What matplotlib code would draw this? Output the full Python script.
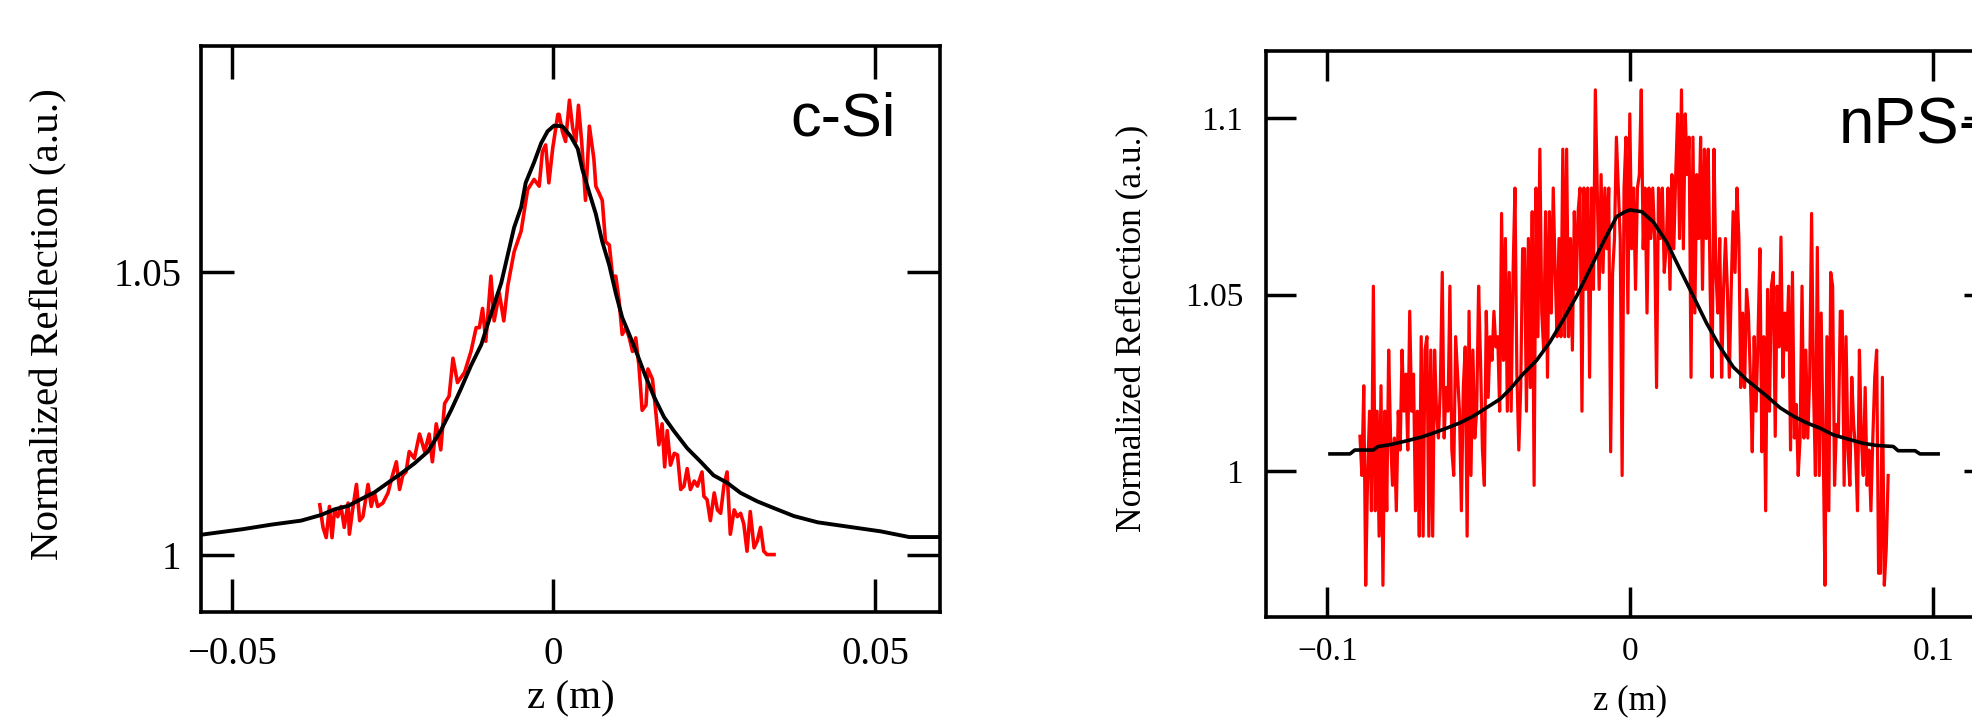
import numpy as np
import matplotlib
matplotlib.use('Agg')
import matplotlib.pyplot as plt

plt.rcParams['font.family'] = ['Liberation Serif', 'DejaVu Serif']

# c-Si : fit (black) and measured (red)
csi_fit_z = [-0.0548, -0.0482, -0.0438, -0.0392, -0.0361, -0.0340, -0.0319, -0.0299, -0.0278, -0.0257,
             -0.0237, -0.0216, -0.0195, -0.0175, -0.0159, -0.0144, -0.0128, -0.0112, -0.0097, -0.0081,
             -0.0071, -0.0061, -0.0050, -0.0043, -0.0030, -0.0019, -0.0009, 0.0001, 0.0014, 0.0027,
             0.0038, 0.0045, 0.0056, 0.0066, 0.0076, 0.0087, 0.0097, 0.0107, 0.0118, 0.0131,
             0.0143, 0.0156, 0.0172, 0.0187, 0.0208, 0.0229, 0.0249, 0.0270, 0.0291, 0.0317,
             0.0343, 0.0374, 0.0411, 0.0509, 0.0553, 0.0601]
csi_fit_r = [1.0035, 1.0045, 1.0053, 1.0060, 1.0070, 1.0080, 1.0086, 1.0098, 1.0110, 1.0127,
             1.0143, 1.0161, 1.0182, 1.0219, 1.0255, 1.0292, 1.0334, 1.0371, 1.0425, 1.0480,
             1.0529, 1.0578, 1.0614, 1.0657, 1.0693, 1.0727, 1.0748, 1.0758, 1.0757, 1.0739,
             1.0717, 1.0681, 1.0639, 1.0602, 1.0553, 1.0511, 1.0462, 1.0419, 1.0389, 1.0352,
             1.0316, 1.0280, 1.0243, 1.0219, 1.0188, 1.0164, 1.0140, 1.0127, 1.0109, 1.0094,
             1.0082, 1.0068, 1.0057, 1.0041, 1.0031, 1.0031]

csi_meas_z = [-0.0363, -0.0358, -0.0353, -0.0348, -0.0344, -0.0340, -0.0335, -0.0330, -0.0325, -0.0319,
              -0.0317, -0.0312, -0.0306, -0.0301, -0.0296, -0.0288, -0.0283, -0.0278, -0.0273, -0.0265,
              -0.0257, -0.0250, -0.0244, -0.0239, -0.0234, -0.0229, -0.0224, -0.0216, -0.0208, -0.0200,
              -0.0193, -0.0188, -0.0182, -0.0175, -0.0169, -0.0162, -0.0156, -0.0149, -0.0138, -0.0128,
              -0.0120, -0.0115, -0.0110, -0.0105, -0.0097, -0.0092, -0.0084, -0.0077, -0.0071, -0.0061,
              -0.0050, -0.0040, -0.0030, -0.0022, -0.0017, -0.0012, -0.0007, -0.0001, 0.0007,
              0.0009, 0.0014, 0.0019, 0.0025, 0.0030, 0.0035, 0.0039, 0.0044, 0.0050, 0.0056,
              0.0063, 0.0066, 0.0071, 0.0076, 0.0081, 0.0087, 0.0092, 0.0097, 0.0102, 0.0107,
              0.0113, 0.0118, 0.0123, 0.0128, 0.0133, 0.0138, 0.0144, 0.0147, 0.0154, 0.0159,
              0.0164, 0.0169, 0.0173, 0.0177, 0.0182, 0.0188, 0.0193, 0.0198, 0.0203, 0.0208,
              0.0213, 0.0219, 0.0224, 0.0231, 0.0234, 0.0239, 0.0244, 0.0250, 0.0255, 0.0260,
              0.0265, 0.0270, 0.0275, 0.0281, 0.0286, 0.0291, 0.0296, 0.0301, 0.0306, 0.0312,
              0.0317, 0.0322, 0.0327, 0.0332, 0.0343]
csi_meas_r = [1.0088, 1.0048, 1.0030, 1.0085, 1.0030, 1.0079, 1.0067, 1.0085, 1.0048, 1.0091,
              1.0036, 1.0079, 1.0124, 1.0060, 1.0067, 1.0124, 1.0085, 1.0109, 1.0085, 1.0091,
              1.0109, 1.0140, 1.0164, 1.0115, 1.0140, 1.0146, 1.0182, 1.0170, 1.0213, 1.0182,
              1.0213, 1.0164, 1.0231, 1.0185, 1.0267, 1.0280, 1.0347, 1.0304, 1.0322, 1.0359,
              1.0401, 1.0401, 1.0435, 1.0377, 1.0492, 1.0413, 1.0462, 1.0413, 1.0474, 1.0535,
              1.0572, 1.0645, 1.0663, 1.0651, 1.0712, 1.0724, 1.0657, 1.0718, 1.0778,
              1.0778, 1.0748, 1.0730, 1.0803, 1.0754, 1.0730, 1.0794, 1.0730, 1.0626, 1.0757,
              1.0699, 1.0651, 1.0639, 1.0626, 1.0553, 1.0547, 1.0492, 1.0492, 1.0450, 1.0389,
              1.0401, 1.0383, 1.0359, 1.0383, 1.0334, 1.0255, 1.0264, 1.0328, 1.0310, 1.0255,
              1.0194, 1.0231, 1.0155, 1.0219, 1.0158, 1.0179, 1.0176, 1.0115, 1.0121, 1.0152,
              1.0115, 1.0130, 1.0121, 1.0146, 1.0103, 1.0097, 1.0060, 1.0109, 1.0079, 1.0073,
              1.0121, 1.0146, 1.0036, 1.0079, 1.0067, 1.0073, 1.0054, 1.0006, 1.0076, 1.0012,
              1.0024, 1.0048, 1.0006, 1.0000, 1.0000]

# nPS : fit (black) and measured (red)
nps_fit_z = [-0.0991, -0.0925, -0.0909, -0.0848, -0.0832, -0.0793, -0.0738, -0.0688, -0.0650, -0.0606,
             -0.0562, -0.0518, -0.0474, -0.0430, -0.0397, -0.0353, -0.0309, -0.0265, -0.0221, -0.0177,
             -0.0133, -0.0089, -0.0045, -0.0017, -0.0001, 0.0038, 0.0076, 0.0120, 0.0164, 0.0208,
             0.0252, 0.0296, 0.0340, 0.0384, 0.0450, 0.0494, 0.0538, 0.0582, 0.0626, 0.0670,
             0.0714, 0.0769, 0.0813, 0.0868, 0.0884, 0.0940, 0.0956, 0.1016]
nps_fit_r = [1.0049, 1.0049, 1.0060, 1.0060, 1.0070, 1.0075, 1.0086, 1.0097, 1.0108, 1.0122,
             1.0137, 1.0156, 1.0180, 1.0204, 1.0232, 1.0276, 1.0314, 1.0366, 1.0429, 1.0496,
             1.0572, 1.0649, 1.0721, 1.0735, 1.0740, 1.0735, 1.0706, 1.0649, 1.0572, 1.0496,
             1.0419, 1.0352, 1.0295, 1.0259, 1.0213, 1.0180, 1.0156, 1.0137, 1.0122, 1.0103,
             1.0092, 1.0079, 1.0073, 1.0070, 1.0058, 1.0058, 1.0049, 1.0049]

nps_meas_r = [1.0099, 0.9988, 1.0242, 0.9677, 0.9988, 1.0170, 0.9888, 1.0524, 0.9888, 1.0170,
              0.9816, 1.0242, 0.9677, 1.0170, 0.9888, 1.0343, 1.0094, 0.9960, 1.0094, 0.9888,
              1.0170, 1.0060, 1.0343, 1.0170, 1.0275, 1.0060, 1.0453, 1.0170, 1.0275, 0.9888,
              1.0170, 0.9816, 1.0381, 0.9816, 1.0343, 1.0381, 0.9816, 1.0343, 0.9816, 1.0343,
              1.0170, 1.0094, 1.0237, 1.0563, 1.0094, 1.0237, 1.0170, 1.0524, 1.0060, 0.9988,
              1.0381, 1.0275, 1.0170, 0.9888, 1.0237, 1.0352, 0.9816, 1.0453, 0.9988, 1.0343,
              1.0094, 1.0170, 1.0524, 1.0314, 1.0060, 0.9960, 1.0453, 1.0209, 1.0381, 1.0314,
              1.0453, 1.0352, 1.0381, 1.0170, 1.0730, 1.0314, 1.0659, 1.0170, 1.0563, 1.0170,
              1.0563, 1.0802, 1.0275, 1.0060, 1.0237, 1.0630,
              1.0630, 1.0170, 1.0659, 1.0237, 1.0735, 0.9960, 1.0802, 1.0381, 1.0912, 1.0448,
              1.0343, 1.0735, 1.0266, 1.0735, 1.0448, 1.0802, 1.0563, 1.0381, 1.0659, 1.0381,
              1.0912, 1.0381, 1.0912, 1.0381, 1.0659, 1.0343, 1.0735, 1.0515, 1.0735, 1.0802,
              1.0170, 1.0802, 1.0515, 1.0802, 1.0266, 1.0802, 1.0515, 1.1080, 1.0802, 1.0515,
              1.0840, 1.0563, 1.0802, 1.0630, 1.0802, 1.0055, 1.0558, 1.0659, 1.0946, 1.0802,
              1.0659, 0.9988, 1.0802, 1.0946, 1.0448, 1.1012, 1.0630, 1.0802, 1.0515, 1.0802,
              1.0840, 1.1080, 1.0630, 1.0802, 1.0448, 1.0802, 1.0659, 1.0802, 1.0659, 1.0237,
              1.0802, 1.0659, 1.0802, 1.0563, 1.0630, 1.0802, 1.0515, 1.0840, 1.0630, 1.0840,
              1.1012, 1.0659, 1.1080, 1.0630, 1.1012, 1.0840, 1.0946, 1.0266, 1.0946, 1.0448,
              1.0840, 1.0659, 1.0946, 1.0515, 1.0912, 1.0659, 1.0912, 1.0515, 1.0266, 1.0912,
              1.0563, 1.0448, 1.0659, 1.0266, 1.0515, 1.0659, 1.0515, 1.0266, 1.0515, 1.0735,
              1.0563, 1.0802, 1.0659, 1.0237, 1.0448, 1.0237, 1.0515, 1.0448, 1.0266, 1.0055,
              1.0381, 1.0170, 1.0381, 1.0630, 1.0055, 1.0381, 0.9888, 1.0515, 1.0170, 1.0524,
              1.0563, 1.0099, 1.0524, 1.0352, 1.0663, 1.0266, 1.0448, 1.0343, 1.0524, 1.0060,
              1.0563, 1.0094, 1.0189, 0.9988, 1.0094, 1.0524, 1.0094, 1.0343, 1.0094, 1.0266,
              1.0730, 1.0237, 0.9988, 1.0634, 0.9988, 1.0448, 1.0103, 0.9677, 1.0381, 0.9888,
              1.0563, 1.0524, 0.9960, 1.0132, 1.0103, 1.0453, 1.0453, 0.9960, 1.0381, 1.0060,
              0.9960, 1.0266, 1.0132, 1.0060, 0.9888, 1.0343, 1.0094, 0.9988, 1.0237, 0.9960,
              1.0060, 0.9888, 1.0094, 1.0266, 1.0343, 0.9711, 0.9711, 1.0266, 0.9677, 0.9778,
              0.9988]
# scan positions of the nPS measurement (uniform z steps)
nps_meas_z = np.linspace(-0.0892, 0.0851, len(nps_meas_r))


def style_axes(ax, ticklen, labelsize):
    for s in ax.spines.values():
        s.set_linewidth(2.6)
    ax.tick_params(which='both', direction='in', top=True, right=True,
                   length=ticklen, width=2.5, labelsize=labelsize)


fig = plt.figure(figsize=(19.72, 7.19), dpi=100)

# left panel: c-Si
ax1 = fig.add_axes([0.1018, 0.1484, 0.3749, 0.7878])
ax1.plot(csi_meas_z, csi_meas_r, color='#ff0000', lw=2.6)
ax1.plot(csi_fit_z, csi_fit_r, color='k', lw=2.8)
ax1.set_xlim(-0.0548, 0.0601)
ax1.set_ylim(0.9898, 1.0899)
ax1.set_xticks([-0.05, 0, 0.05])
ax1.set_xticklabels(['\u22120.05', '0', '0.05'])
ax1.set_yticks([1, 1.05])
ax1.set_yticklabels(['1', '1.05'])
style_axes(ax1, 24, 28)
ax1.tick_params(axis='x', pad=17)
ax1.tick_params(axis='y', pad=14)
ax1.set_xlabel('z (m)', fontsize=29.5)
ax1.xaxis.set_label_coords(0.5, -0.1195)
ax1.set_ylabel('Normalized Reflection (a.u.)', fontsize=29.5)
ax1.yaxis.set_label_coords(-0.181, 0.508)
ax1.text(0.798, 0.842, 'c-Si', transform=ax1.transAxes, family='Liberation Sans',
         fontsize=44, ha='left', va='baseline')

# right panel: nPS-Si
ax2 = fig.add_axes([0.6420, 0.1423, 0.3691, 0.7872])
ax2.plot(nps_meas_z, nps_meas_r, color='#ff0000', lw=2.3)
ax2.plot(nps_fit_z, nps_fit_r, color='k', lw=2.6)
ax2.set_xlim(-0.1202, 0.12)
ax2.set_ylim(0.9588, 1.1191)
ax2.set_xticks([-0.1, 0, 0.1])
ax2.set_xticklabels(['\u22120.1', '0', '0.1'])
ax2.set_yticks([1, 1.05, 1.1])
ax2.set_yticklabels(['1', '1.05', '1.1'])
style_axes(ax2, 21.6, 24)
ax2.tick_params(axis='x', pad=14)
ax2.tick_params(axis='y', pad=16.5)
ax2.set_xlabel('z (m)', fontsize=25)
ax2.xaxis.set_label_coords(0.5, -0.1189)
ax2.set_ylabel('Normalized Reflection (a.u.)', fontsize=25.5)
ax2.yaxis.set_label_coords(-0.1607, 0.510)
ax2.text(0.787, 0.837, 'nPS-Si', transform=ax2.transAxes, family='Liberation Sans',
         fontsize=46, ha='left', va='baseline')

plt.savefig('out.png', dpi=100)
